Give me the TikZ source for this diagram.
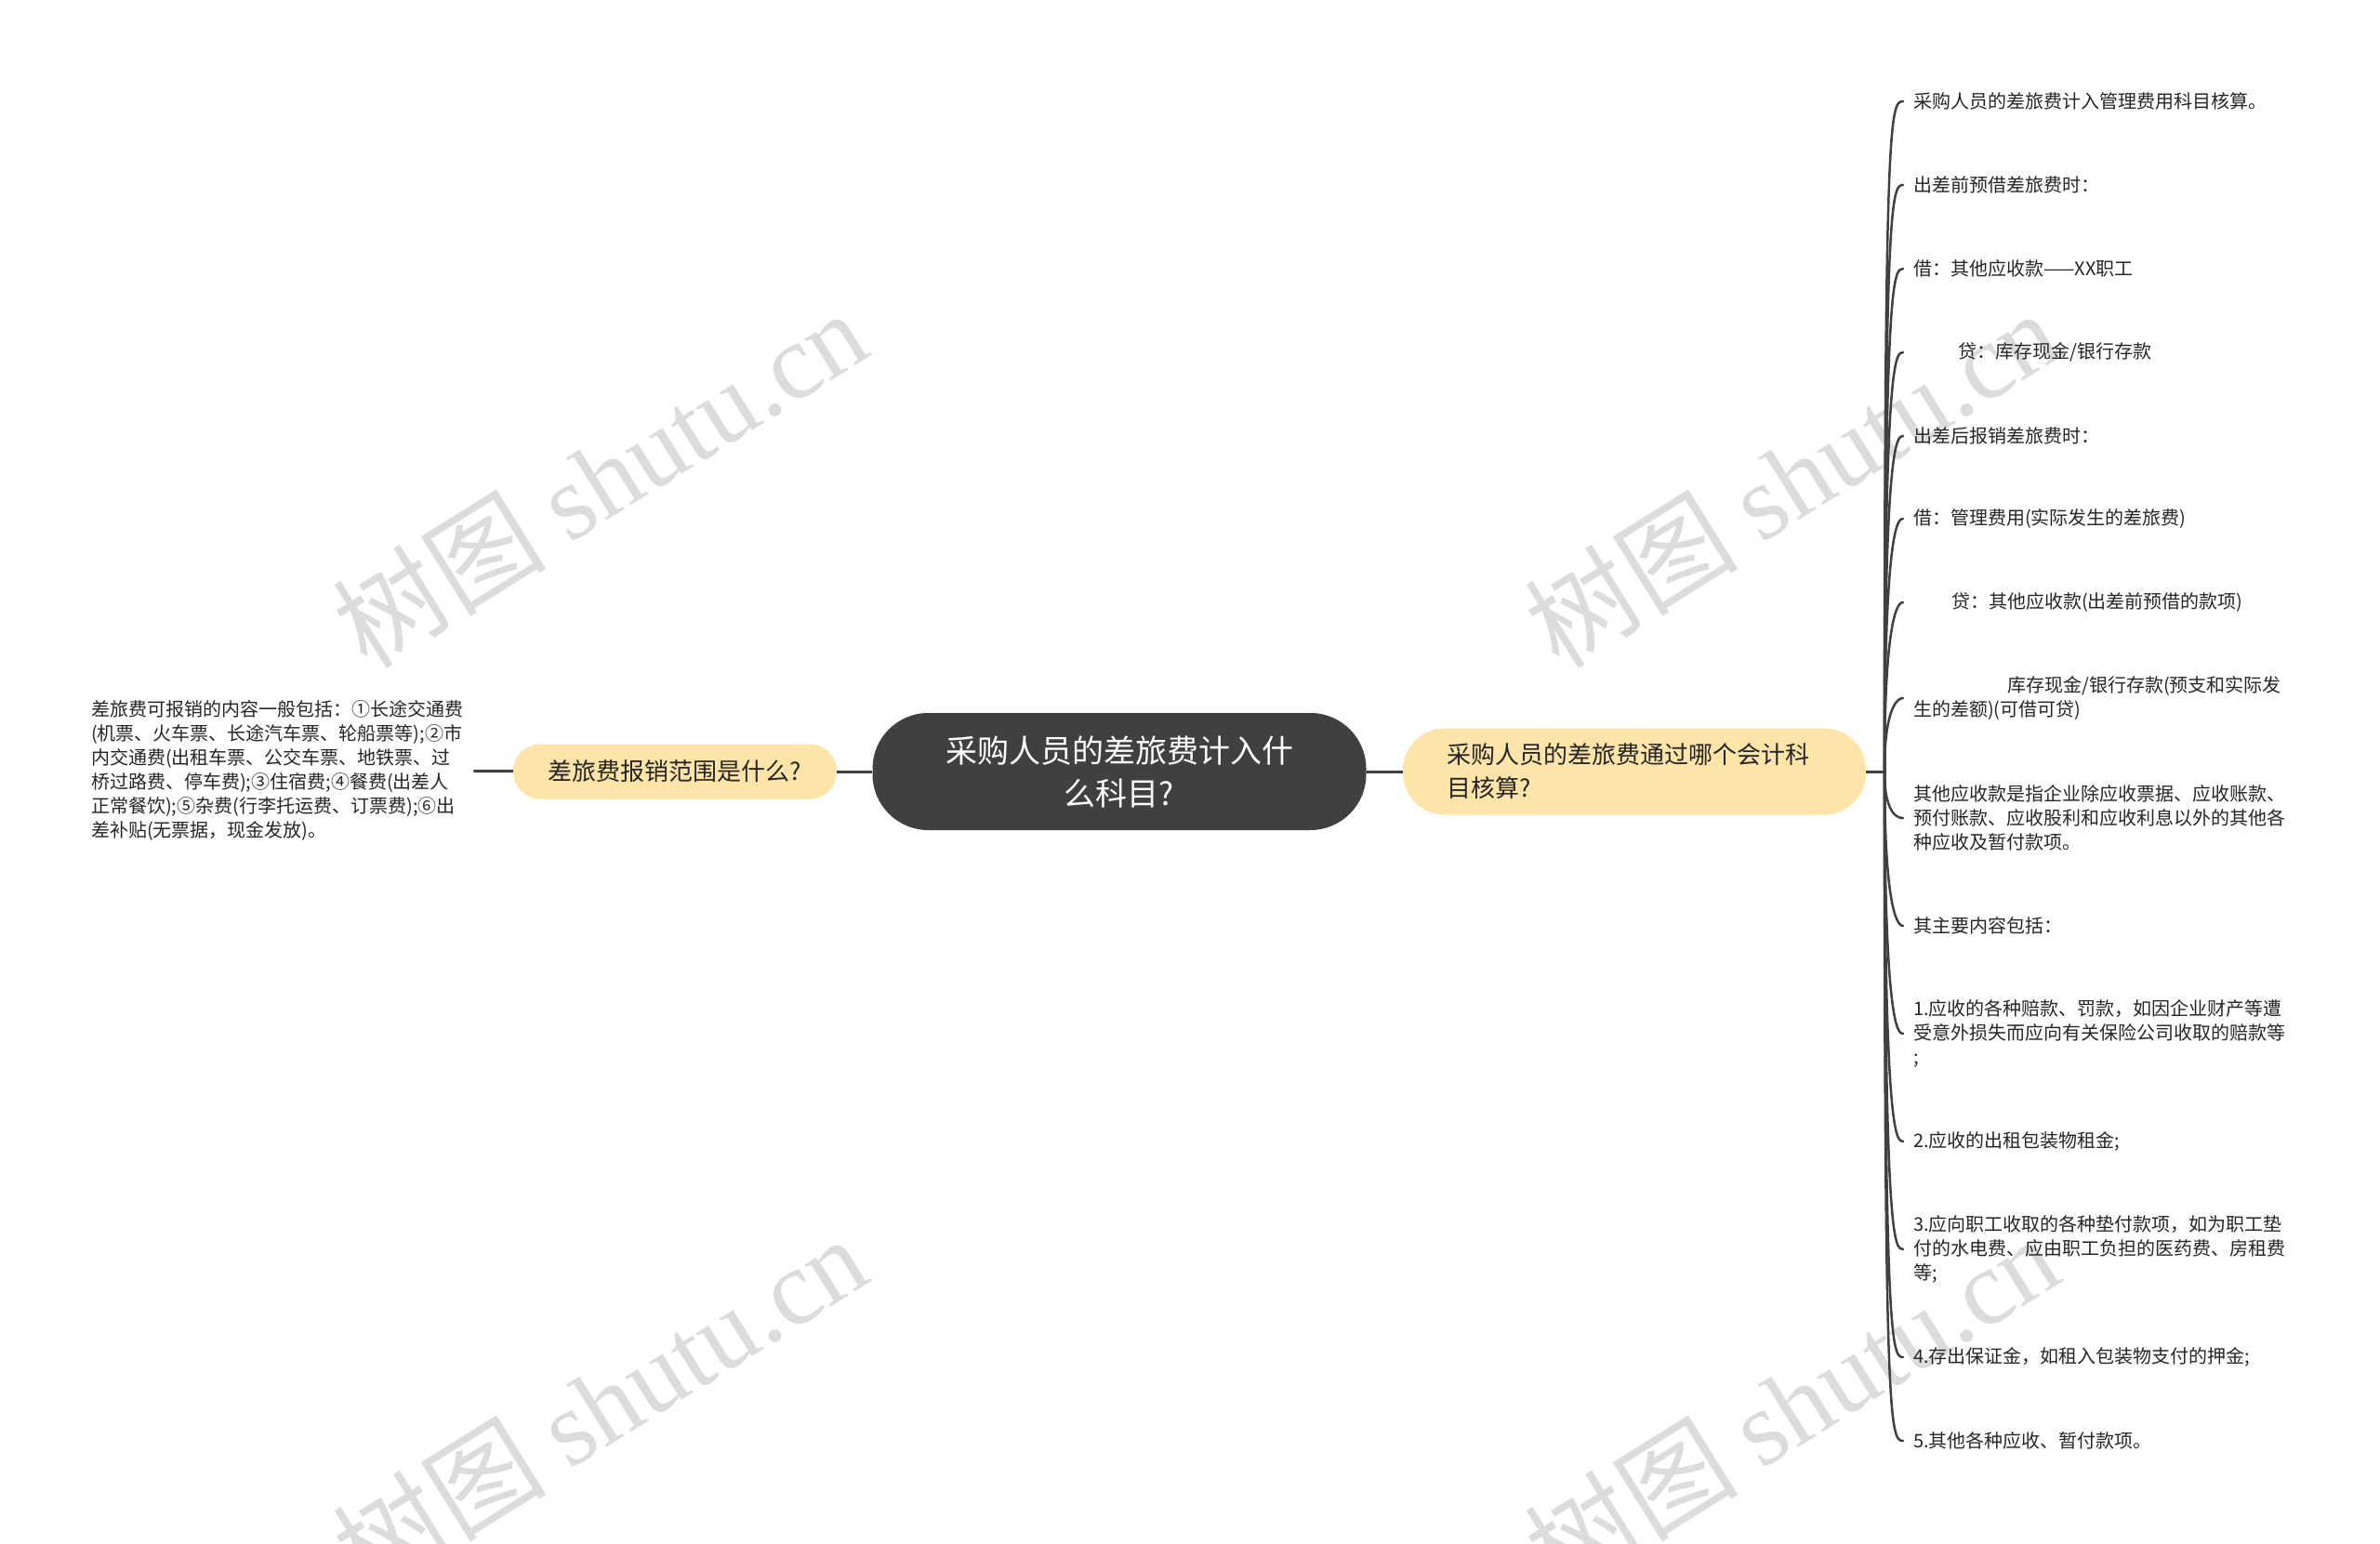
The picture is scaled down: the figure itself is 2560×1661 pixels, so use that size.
\documentclass[tikz,border=0pt]{standalone}
\usepackage{fontspec}
\setmainfont{Noto Sans CJK SC}
\newfontfamily\markfont{Liberation Serif}
\definecolor{rootgray}{HTML}{404040}
\definecolor{topicyellow}{HTML}{FDE4A8}
\definecolor{markgray}{HTML}{DCDCDC}
\tikzset{
  root/.style={fill=rootgray, text=white, rounded corners=60pt,
    minimum width=531pt, minimum height=126pt, align=center,
    font=\fontsize{34}{46}\selectfont},
  topic/.style={fill=topicyellow, text=black!85, inner ysep=0pt,
    font=\fontsize{26}{36}\selectfont},
  leaf/.style={anchor=west, align=left, inner xsep=11pt, inner ysep=0pt,
    text=black!85, font=\fontsize{20}{26}\selectfont},
  twigup/.style={out=90, in=180, out looseness=2.5, in looseness=0.05},
  twigdown/.style={out=-90, in=180, out looseness=2.5, in looseness=0.05},
  watermark/.style={text=markgray, rotate=32, inner sep=0pt,
    font=\fontsize{115}{115}\selectfont}
}
\begin{document}
\begin{tikzpicture}[x=1pt,y=1pt]
    \useasboundingbox[fill=white] (0,0) rectangle (2560,-1661);
    % watermarks
    \begin{scope}
      \clip (0,0) rectangle (2560,-1661);
      \node[watermark] (W1) at (645,-514) {树图 {\markfont shutu.cn}};
      \node[watermark] (W2) at (1927,-514) {树图 {\markfont shutu.cn}};
      \node[watermark] (W3) at (645,-1510) {树图 {\markfont shutu.cn}};
      \node[watermark] (W4) at (1927,-1510) {树图 {\markfont shutu.cn}};
    \end{scope}
    \node[root] (T) at (1204,-830) {采购人员的差旅费计入什\\么科目?};
    \node[topic, rounded corners=29pt, minimum width=348pt, minimum height=59pt]
      (Q1) at (726,-830) {差旅费报销范围是什么?};
    \node[topic, rounded corners=45pt, text width=404pt, inner xsep=47pt,
      minimum height=93pt, align=left]
      (Q2) at (1758,-830) {采购人员的差旅费通过哪个会计科\\目核算?};
    \node[leaf] (L1) at (87,-829) {差旅费可报销的内容一般包括：①长途交通费\\
      (机票、火车票、长途汽车票、轮船票等);②市\\
      内交通费(出租车票、公交车票、地铁票、过\\
      桥过路费、停车费);③住宿费;④餐费(出差人\\
      正常餐饮);⑤杂费(行李托运费、订票费);⑥出\\
      差补贴(无票据，现金发放)。};
    \coordinate (hub) at (2027,-830);
    \node[leaf] (R1) at (2047,-109) {采购人员的差旅费计入管理费用科目核算。};
    \node[leaf] (R2) at (2047,-199) {出差前预借差旅费时：};
    \node[leaf] (R3) at (2047,-289) {借：其他应收款——XX职工};
    \node[leaf] (R4) at (2047,-379) {\hspace*{48pt}贷：库存现金/银行存款};
    \node[leaf] (R5) at (2047,-469) {出差后报销差旅费时：};
    \node[leaf] (R6) at (2047,-558) {借：管理费用(实际发生的差旅费)};
    \node[leaf] (R7) at (2047,-648) {\hspace*{41pt}贷：其他应收款(出差前预借的款项)};
    \node[leaf] (R8) at (2047,-751) {\hspace*{101pt}库存现金/银行存款(预支和实际发\\
      生的差额)(可借可贷)};
    \node[leaf] (R9) at (2047,-880) {其他应收款是指企业除应收票据、应收账款、\\
      预付账款、应收股利和应收利息以外的其他各\\
      种应收及暂付款项。};
    \node[leaf] (R10) at (2047,-996) {其主要内容包括：};
    \node[leaf] (R11) at (2047,-1112) {1.应收的各种赔款、罚款，如因企业财产等遭\\
      受意外损失而应向有关保险公司收取的赔款等\\
      ;};
    \node[leaf] (R12) at (2047,-1228) {2.应收的出租包装物租金;};
    \node[leaf] (R13) at (2047,-1344) {3.应向职工收取的各种垫付款项，如为职工垫\\
      付的水电费、应由职工负担的医药费、房租费\\
      等;};
    \node[leaf] (R14) at (2047,-1460) {4.存出保证金，如租入包装物支付的押金;};
    \node[leaf] (R15) at (2047,-1550) {5.其他各种应收、暂付款项。};
    \path[draw=rootgray, line width=3pt]
      (T) edge (Q1)
      (T) edge (Q2)
      (Q1) edge (L1)
      (Q2.east) edge (hub);
    \path[draw=rootgray, line width=2.5pt, line cap=round]
      (hub) edge[twigup] (R1.west)
      (hub) edge[twigup] (R2.west)
      (hub) edge[twigup] (R3.west)
      (hub) edge[twigup] (R4.west)
      (hub) edge[twigup] (R5.west)
      (hub) edge[twigup] (R6.west)
      (hub) edge[twigup] (R7.west)
      (hub) edge[twigup] (R8.west)
      (hub) edge[twigdown] (R9.west)
      (hub) edge[twigdown] (R10.west)
      (hub) edge[twigdown] (R11.west)
      (hub) edge[twigdown] (R12.west)
      (hub) edge[twigdown] (R13.west)
      (hub) edge[twigdown] (R14.west)
      (hub) edge[twigdown] (R15.west);
  \end{tikzpicture}
\end{document}
